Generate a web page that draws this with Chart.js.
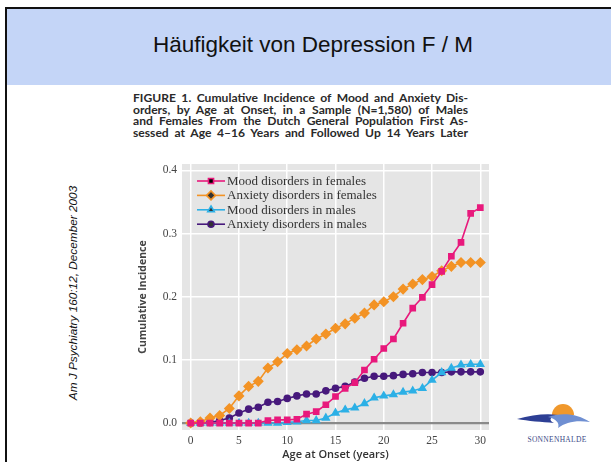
<!DOCTYPE html>
<html>
<head>
<meta charset="utf-8">
<script src="https://cdn.jsdelivr.net/npm/chart.js@4.4.1/dist/chart.umd.min.js"></script>
<style>
  html, body { margin: 0; padding: 0; background: #fff; }
  body { width: 611px; height: 462px; position: relative; overflow: hidden; font-family: "Liberation Sans", Arial, sans-serif; }
  .frame { position: absolute; left: 5px; top: 7px; width: 640px; height: 470px; border-left: 2px solid #111; border-top: 2px solid #111; }
  .band { position: absolute; left: 7px; top: 9px; width: 620px; height: 76px; background: #c4d5f7; }
  .title { position: absolute; left: 0; width: 626px; top: 32px; text-align: center; font-size: 22.5px; color: #111; }
  .caption { position: absolute; left: 133px; top: 92px; width: 335px; font-family: Lato, "Liberation Sans", sans-serif; font-weight: bold; font-size: 12.1px; line-height: 11.7px; color: #2a2a2a; }
  .caption div { text-align: justify; text-align-last: justify; white-space: nowrap; }
  .cite { position: absolute; left: 73px; top: 293px; transform: translate(-50%, -50%) rotate(-90deg); white-space: nowrap; font-style: italic; font-size: 11.8px; color: #111; }
  #wrap { position: absolute; left: 120px; top: 150px; width: 380px; height: 312px; }
  .logo { position: absolute; left: 512px; top: 400px; }
</style>
</head>
<body>
<div class="frame"></div>
<div class="band"></div>
<div class="title">Häufigkeit von Depression F / M</div>
<div class="caption">
  <div>FIGURE 1. Cumulative Incidence of Mood and Anxiety Dis-</div>
  <div>orders, by Age at Onset, in a Sample (N=1,580) of Males</div>
  <div>and Females From the Dutch General Population First As-</div>
  <div>sessed at Age 4–16 Years and Followed Up 14 Years Later</div>
</div>
<div class="cite">Am J Psychiatry 160:12, December 2003</div>
<div id="wrap"><canvas id="chart" width="380" height="312"></canvas></div>
<svg class="logo" width="90" height="50" viewBox="0 0 90 50">
  <path d="M40 15 A11 11 0 0 1 62 15 Z" fill="#f0982c"/>
  <path d="M5 19 C20 15 34 13 46 15 C38 17 36 20 42 23 C30 22 16 21 5 19 Z" fill="#2d3f95"/>
  <path d="M36 17 C50 12 66 14 78 22 C64 20 54 22 46 28 C48 23 44 19 36 17 Z" fill="#6f8fd2"/>
  <text x="45" y="42" text-anchor="middle" font-family="Liberation Serif, serif" font-size="7.5" fill="#3b4a86" letter-spacing="0.3">SONNENHALDE</text>
</svg>
<script>
// Daten
const ages = [0,1,2,3,4,5,6,7,8,9,10,11,12,13,14,15,16,17,18,19,20,21,22,23,24,25,26,27,28,29,30];
const moodFemales = [0,0,0,0,0,0,0,0,0.004,0.005,0.005,0.006,0.014,0.018,0.029,0.042,0.055,0.064,0.084,0.101,0.118,0.133,0.158,0.182,0.199,0.219,0.24,0.264,0.286,0.332,0.341];
const anxietyFemales = [0,0.002,0.008,0.012,0.023,0.043,0.058,0.066,0.087,0.097,0.11,0.116,0.122,0.133,0.141,0.15,0.157,0.166,0.174,0.187,0.192,0.2,0.212,0.22,0.227,0.232,0.241,0.248,0.254,0.254,0.254];
const moodMales = [0,0,0,0,0,0,0,0,0,0,0.001,0.002,0.004,0.004,0.008,0.016,0.021,0.024,0.031,0.04,0.043,0.045,0.049,0.051,0.055,0.068,0.08,0.087,0.092,0.093,0.093];
const anxietyMales = [0,0,0.001,0.004,0.008,0.016,0.022,0.025,0.033,0.034,0.039,0.043,0.046,0.046,0.051,0.055,0.058,0.065,0.071,0.074,0.074,0.075,0.077,0.078,0.08,0.08,0.08,0.081,0.081,0.081,0.081];
const yTicks = [0, 0.1, 0.2, 0.3, 0.4];
const xTicks = [0, 5, 10, 15, 20, 25, 30];

const series = [
  {label: 'Mood disorders in females', data: moodFemales, color: '#e8197c', style: 'rect', r: 3.6},
  {label: 'Anxiety disorders in females', data: anxietyFemales, color: '#f39325', style: 'rectRot', r: 4.4},
  {label: 'Mood disorders in males', data: moodMales, color: '#2cb0e6', style: 'triangle', r: 3.8},
  {label: 'Anxiety disorders in males', data: anxietyMales, color: '#47197c', style: 'circle', r: 3}
];

// Hintergrund der Plotfläche
const plotBg = {
  id: 'plotBg',
  beforeDraw(chart) {
    const {ctx, chartArea: a} = chart;
    ctx.save();
    ctx.fillStyle = '#e5e5e5';
    ctx.fillRect(a.left, a.top, a.right - a.left, a.bottom - a.top);
    ctx.restore();
  }
};

// Legende innerhalb der Plotfläche
const innerLegend = {
  id: 'innerLegend',
  afterDraw(chart) {
    const {ctx, chartArea: a} = chart;
    ctx.save();
    ctx.font = '13px "Liberation Serif", serif';
    ctx.textBaseline = 'middle';
    chart.data.datasets.forEach((ds, i) => {
      const y = a.top + 17 + i * 14.4;
      const x0 = a.left + 15;
      ctx.strokeStyle = ds.borderColor;
      ctx.lineWidth = 1.6;
      ctx.beginPath();
      ctx.moveTo(x0, y);
      ctx.lineTo(x0 + 28, y);
      ctx.stroke();
      Chart.helpers.drawPoint(ctx, {pointStyle: ds.pointStyle, radius: ds.pointRadius, borderWidth: 1}, x0 + 14, y);
      ctx.fillStyle = '#333';
      ctx.fillText(ds.label, x0 + 30, y + 0.5);
    });
    ctx.restore();
  }
};

const ctx = document.getElementById('chart').getContext('2d');
new Chart(ctx, {
  type: 'line',
  data: {
    datasets: series.map(s => ({
      label: s.label,
      data: ages.map((a, i) => ({x: a, y: s.data[i]})),
      borderColor: s.color,
      backgroundColor: s.color,
      pointBackgroundColor: s.color,
      pointBorderColor: s.color,
      pointStyle: s.style,
      pointRadius: s.r,
      borderWidth: 1.6,
      tension: 0
    }))
  },
  options: {
    responsive: false,
    animation: false,
    layout: {padding: {top: 14, right: 11, left: 0, bottom: 0}},
    plugins: {legend: {display: false}, tooltip: {enabled: false}},
    scales: {
      x: {
        type: 'linear',
        min: -0.9,
        max: 30.9,
        afterFit(s) { s.height = 32; },
        afterBuildTicks(s) { s.ticks = xTicks.map(v => ({value: v})); },
        grid: {color: '#fff', lineWidth: 1.5, drawTicks: false},
        border: {display: false},
        ticks: {padding: 4, color: '#444', font: {family: '"Liberation Serif", serif', size: 11.5}},
        title: {display: true, text: 'Age at Onset (years)', color: '#333', padding: {top: 0, bottom: 1}, font: {family: '"Open Sans", "Liberation Sans", sans-serif', size: 11, weight: '600'}}
      },
      y: {
        min: -0.011,
        max: 0.41,
        afterFit(s) { s.width = 62; },
        afterBuildTicks(s) { s.ticks = yTicks.map(v => ({value: v})); },
        grid: {
          color: c => c.tick && c.tick.value === 0 ? '#8a8a8a' : '#fff',
          lineWidth: c => c.tick && c.tick.value === 0 ? 2.2 : 1.5,
          drawTicks: false
        },
        border: {display: false},
        ticks: {padding: 5, color: '#444', font: {family: '"Liberation Serif", serif', size: 11.5}, callback: v => v.toFixed(1)},
        title: {display: true, text: 'Cumulative Incidence', color: '#444', padding: {top: 17, bottom: 0}, font: {family: '"Open Sans", "Liberation Sans", sans-serif', size: 10.5, weight: 'bold'}}
      }
    }
  },
  plugins: [plotBg, innerLegend]
});
</script>
</body>
</html>
